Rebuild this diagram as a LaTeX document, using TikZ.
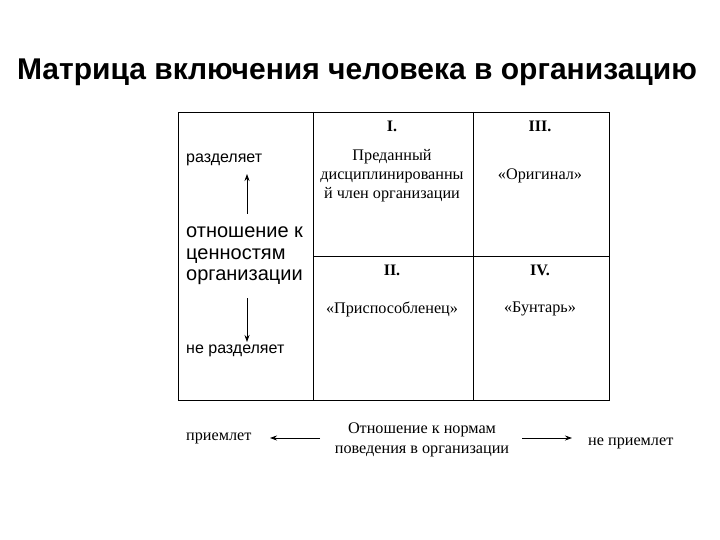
\documentclass[tikz,border=0pt]{standalone}
\usepackage{fontspec}
\setmainfont{Liberation Serif}
\setsansfont{Liberation Sans}
\usetikzlibrary{arrows.meta}
\begin{document}
\begin{tikzpicture}[x=1pt,y=-1pt,
  sf/.style={font=\sffamily\fontsize{16}{18}\selectfont,anchor=west,inner sep=0},
  cell/.style={font=\fontsize{16.2}{19}\selectfont,align=center,inner sep=0},
  num/.style={font=\bfseries\fontsize{16}{18}\selectfont,inner sep=0},
  arr/.style={-{Stealth[length=7pt,width=5pt]},line width=0.8pt}]
\useasboundingbox (0,0) rectangle (720,540);
\node[font=\sffamily\bfseries\fontsize{30}{34}\selectfont] (title) at (357,72) {Матрица включения человека в организацию};
\draw[line width=0.9pt] (178,112) rectangle (609,400);
\draw[line width=0.9pt] (313,112) -- (313,400) (473,112) -- (473,400) (313,256) -- (609,256);
\node[sf] (sh) at (186,160) {разделяет};
\node[sf,font=\sffamily\fontsize{20}{21.5}\selectfont,align=left] (val) at (186,256) {отношение к\\ценностям\\организации};
\node[sf] (nsh) at (186,351) {не разделяет};
\coordinate (u1) at (247,214); \coordinate (u2) at (247,174);
\coordinate (d1) at (247,298); \coordinate (d2) at (247,342);
\draw[arr] (u1) -- (u2);
\draw[arr] (d1) -- (d2);
\node[num] (n1) at (392,126) {I.};
\node[num] (n3) at (540,126) {III.};
\node[num] (n2) at (392,270) {II.};
\node[num] (n4) at (540,270) {IV.};
\node[cell] (c1) at (392,176) {Преданный\\дисциплинированны\\й член организации};
\node[cell] (c3) at (540,176) {«Оригинал»};
\node[cell] (c2) at (392,309) {«Приспособленец»};
\node[cell] (c4) at (540,309) {«Бунтарь»};
\node[cell,anchor=west] (pr) at (186,438) {приемлет};
\node[cell,font=\fontsize{16.2}{20}\selectfont] (norm) at (422,440) {Отношение к нормам\\поведения в организации};
\node[cell,anchor=west] (npr) at (588,443) {не приемлет};
\coordinate (l1) at (320,438); \coordinate (l2) at (270,438);
\coordinate (r1) at (522,438); \coordinate (r2) at (572,438);
\draw[arr] (l1) -- (l2);
\draw[arr] (r1) -- (r2);
\end{tikzpicture}
\end{document}
